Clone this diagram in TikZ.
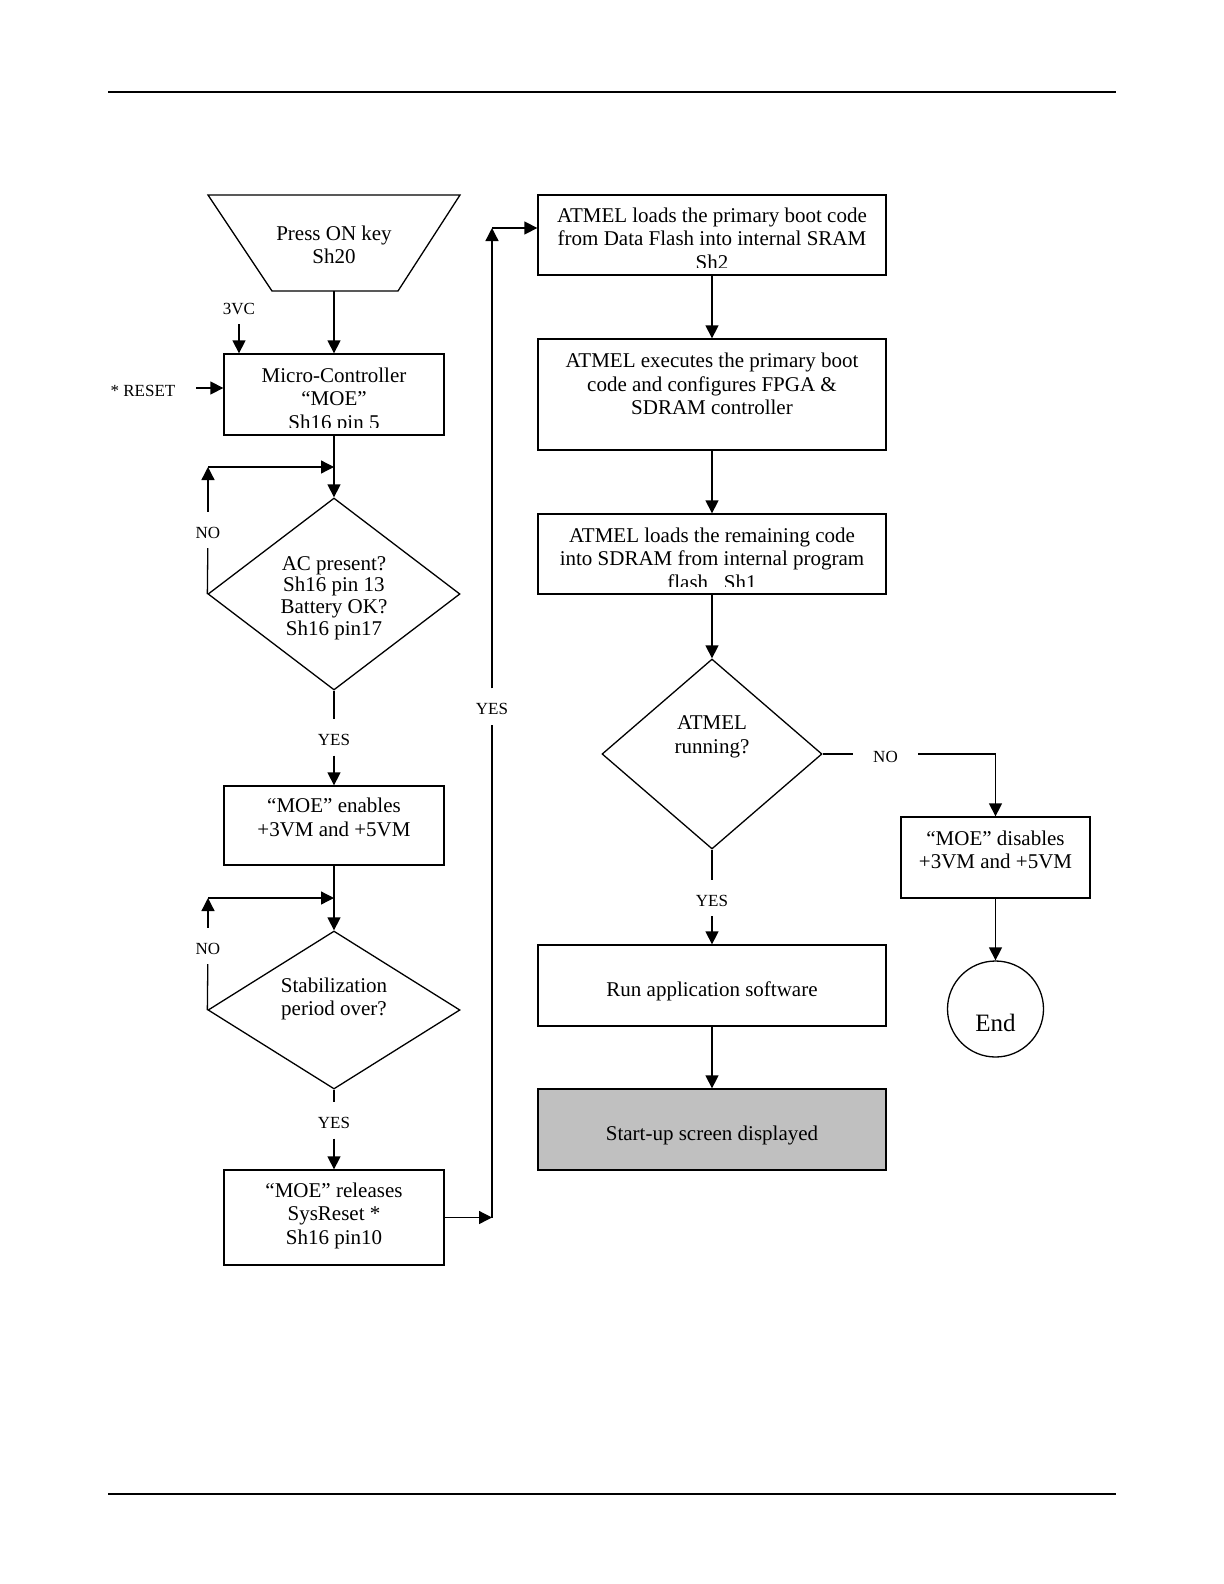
\documentclass[tikz,border=0pt]{standalone}
\usepackage{fontspec}
\setmainfont{Liberation Serif}
\usetikzlibrary{shapes.geometric,arrows.meta}
\definecolor{shade}{RGB}{192,192,192}
\newcommand{\boxfont}{\fontsize{10.5}{11.75}\selectfont}
\newcommand{\lblfont}{\fontsize{8.5}{10}\selectfont}
\tikzset{
  base/.style={draw, line width=0.65pt, inner sep=0pt},
  box/.style={base, rectangle},
  txt/.style={shape=rectangle, draw=none, fill=none, minimum size=0pt,
    inner sep=0pt, align=center, font=\boxfont},
  intext/.style 2 args={path picture={
      \node[txt] at ([yshift=#1]path picture bounding box.center) {#2};}},
  intextcut/.style 2 args={path picture={
      \clip ([yshift=4pt]path picture bounding box.south west)
        rectangle (path picture bounding box.north east);
      \node[txt] at ([yshift=#1]path picture bounding box.center) {#2};}},
  lbl/.style={font=\lblfont, inner xsep=10pt, inner ysep=0pt,
    text height=12.8pt, text depth=4.7pt},
}
\begin{document}
\begin{tikzpicture}[x=0.5pt, y=-0.5pt, line width=0.65pt,
    >={Triangle[width=6.5pt,length=6.5pt]}]
  \useasboundingbox (0,0) rectangle (1224,1584);
  % page rules
  \draw[line width=1pt] (108,92) -- (1116,92);
  \draw[line width=1pt] (108,1494) -- (1116,1494);

  % left column
  \draw (208,195) -- (460,195) -- (398,291) -- (272,291) -- cycle;
  \node[txt] (start) at (334,245) {Press ON key\\Sh20};
  \coordinate (startbot) at (334,291);
  \node[box, minimum width=110pt, minimum height=40.5pt,
    intextcut={-3pt}{Micro-Controller\\“MOE”\\Sh16 pin 5}] (mc) at (334,394.5) {};
  \node[lbl] (vc) at (239,306) {3VC};
  \node[lbl] (reset) at (143,388) {* RESET};
  \node[base, diamond, minimum width=126pt, minimum height=96pt,
    intext={-2pt}{AC present?\\[-0.9pt]Sh16 pin 13\\[-0.9pt]Battery OK?\\[-0.9pt]Sh16 pin17}] (acok) at (334,594) {};
  \node[box, minimum width=110pt, minimum height=39.5pt,
    intext={4pt}{“MOE” enables\\+3VM and +5VM}] (enable) at (334,825.5) {};
  \node[base, diamond, minimum width=126pt, minimum height=79pt,
    intext={5.5pt}{Stabilization\\period over?}] (stable) at (334,1010) {};
  \node[box, minimum width=110pt, minimum height=47.5pt,
    intext={1pt}{“MOE” releases\\SysReset *\\Sh16 pin10}] (release) at (334,1217.5) {};

  \node[lbl] (noa) at (208,530) {NO};
  \node[lbl] (yesa) at (334,737.5) {YES};
  \node[lbl] (nob) at (208,946) {NO};
  \node[lbl] (yesb) at (334,1120.5) {YES};
  \node[lbl] (yesc) at (492,706.5) {YES};
  \coordinate (loopa) at (208,467);
  \coordinate (loopb) at (208,898);
  \coordinate (top) at (492,228);

  % right column
  \node[box, minimum width=174pt, minimum height=40pt,
    intextcut={-1.8pt}{ATMEL loads the primary boot code\\from Data Flash into internal SRAM\\Sh2}] (load) at (712,235) {};
  \node[box, minimum width=174pt, minimum height=55.5pt,
    intext={5.25pt}{ATMEL executes the primary boot\\code and configures FPGA \&\\SDRAM controller}] (config) at (712,394.5) {};
  \node[box, minimum width=174pt, minimum height=40pt,
    intextcut={-2.3pt}{ATMEL loads the remaining code\\into SDRAM from internal program\\flash~~~Sh1}] (copy) at (712,554) {};
  \node[base, diamond, minimum width=110pt, minimum height=95pt,
    intext={8.5pt}{ATMEL\\running?}] (running) at (712,754) {};
  \node[box, minimum width=94.5pt, minimum height=40.5pt,
    intext={3.75pt}{“MOE” disables\\+3VM and +5VM}] (disable) at (995.5,857.5) {};
  \node[base, circle, minimum size=48pt,
    intext={-7pt}{\fontsize{12.5}{14}\selectfont End}] (stop) at (995.5,1009) {};
  \node[box, minimum width=174pt, minimum height=40.5pt,
    intext={-2.75pt}{Run application software}] (run) at (712,985.5) {};
  \node[box, fill=shade, minimum width=174pt, minimum height=40.5pt,
    intext={-2.75pt}{Start-up screen displayed}] (screen) at (712,1129.5) {};
  \node[lbl] (noc) at (885.5,754) {NO};
  \node[lbl] (yesd) at (712,898) {YES};

  % connectors
  \draw[->] (startbot) -- (mc.north);
  \draw[->] (vc.south) -- (vc.south |- mc.north);
  \draw[->] (reset.east) -- (reset.east -| mc.west);
  \draw[->] (mc.south) -- (acok.north);
  \draw (acok.west) -- (noa);
  \draw[->] (noa) -- (loopa);
  \draw[->] (loopa) -- (loopa -| acok.north);
  \draw (acok.south) -- (yesa);
  \draw[->] (yesa) -- (enable.north);
  \draw[->] (enable.south) -- (stable.north);
  \draw (stable.west) -- (nob);
  \draw[->] (nob) -- (loopb);
  \draw[->] (loopb) -- (loopb -| stable.north);
  \draw (stable.south) -- (yesb);
  \draw[->] (yesb) -- (release.north);
  \draw[->] (release.east) -- (release.east -| yesc);
  \draw (release.east -| yesc) -- (yesc);
  \draw[->] (yesc) -- (top);
  \draw[->] (top) -- (top -| load.west);

  \draw[->] (load.south) -- (config.north);
  \draw[->] (config.south) -- (copy.north);
  \draw[->] (copy.south) -- (running.north);
  \draw (running.east) -- (noc);
  \draw[->] (noc) -| (disable.north);
  \draw[->] (disable.south) -- (stop.north);
  \draw (running.south) -- (yesd);
  \draw[->] (yesd) -- (run.north);
  \draw[->] (run.south) -- (screen.north);
\end{tikzpicture}
\end{document}
